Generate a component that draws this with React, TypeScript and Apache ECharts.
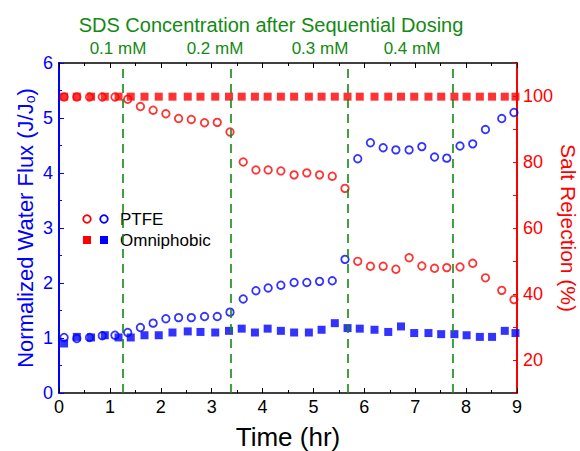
import React, { useEffect, useRef } from 'react';
import * as echarts from 'echarts';

const FONT = '"Liberation Sans", Arial, Helvetica, sans-serif';
const BLUE = '#0000ff';
const RED = '#ff0000';
const GREEN = '#138a13';

// PTFE membrane (open circles)
const timePTFE = [0.10, 0.35, 0.60, 0.85, 1.10, 1.35, 1.60, 1.85, 2.10, 2.35, 2.60, 2.86, 3.11, 3.36, 3.62, 3.87, 4.11, 4.36, 4.62, 4.87, 5.12, 5.37, 5.62, 5.87, 6.12, 6.37, 6.62, 6.88, 7.13, 7.38, 7.62, 7.88, 8.13, 8.38, 8.70, 8.94];
const fluxPTFE = [1.01, 0.99, 1.01, 1.04, 1.05, 1.10, 1.19, 1.27, 1.35, 1.37, 1.37, 1.39, 1.39, 1.47, 1.71, 1.86, 1.91, 1.96, 2.01, 2.01, 2.03, 2.04, 2.43, 4.26, 4.55, 4.46, 4.42, 4.42, 4.48, 4.29, 4.27, 4.49, 4.53, 4.79, 4.99, 5.10];
const rejPTFE = [99.7, 99.7, 99.7, 99.7, 99.7, 99.0, 96.8, 95.7, 94.6, 93.2, 92.9, 91.9, 92.0, 89.1, 80.0, 77.6, 77.6, 77.3, 76.1, 76.7, 76.1, 75.7, 72.0, 49.9, 48.4, 48.4, 47.5, 51.0, 48.5, 47.8, 48.0, 48.2, 49.3, 44.9, 41.1, 38.3];

// Omniphobic membrane (filled squares)
const timeOmni = [0.10, 0.35, 0.63, 0.90, 1.17, 1.41, 1.68, 1.96, 2.23, 2.53, 2.78, 3.07, 3.34, 3.59, 3.85, 4.10, 4.36, 4.62, 4.91, 5.16, 5.42, 5.67, 5.91, 6.20, 6.47, 6.72, 6.98, 7.26, 7.51, 7.77, 8.01, 8.27, 8.51, 8.76, 8.97];
const fluxOmni = [0.90, 1.02, 1.01, 1.05, 1.01, 1.01, 1.05, 1.05, 1.10, 1.12, 1.11, 1.10, 1.13, 1.17, 1.10, 1.17, 1.13, 1.10, 1.10, 1.15, 1.27, 1.18, 1.17, 1.15, 1.11, 1.21, 1.09, 1.09, 1.07, 1.07, 1.05, 1.02, 1.02, 1.13, 1.09];
const rejOmni = [99.8, 99.8, 99.8, 99.8, 99.8, 99.8, 99.8, 99.8, 99.8, 99.8, 99.8, 99.8, 99.8, 99.8, 99.8, 99.8, 99.8, 99.8, 99.8, 99.8, 99.8, 99.8, 99.8, 99.8, 99.8, 99.8, 99.8, 99.8, 99.8, 99.8, 99.8, 99.8, 99.8, 99.8, 99.8];

// SDS dosing events
const doseTimes = [1.25, 3.37, 5.68, 7.74];
const doseLabels = ['0.1 mM', '0.2 mM', '0.3 mM', '0.4 mM'];
const doseLabelX = [118, 215, 320, 412];

const rejLabels = [20, 40, 60, 80, 100];

const zip = (xs: number[], ys: number[]) => xs.map((x, i) => [x, ys[i]]);

export default function App() {
  const ref = useRef<HTMLDivElement>(null);
  useEffect(() => {
    const chart = echarts.init(ref.current!, null, { renderer: 'svg' });
    const commonX = {
      type: 'value', min: 0, max: 9, interval: 1,
      axisLine: { show: true, onZero: false, lineStyle: { color: '#000', width: 1.5 } },
      axisTick: { show: true, inside: true, length: 5, lineStyle: { color: '#000', width: 1 } },
      minorTick: { show: true, splitNumber: 2, length: 3, lineStyle: { color: '#000', width: 1 } },
      splitLine: { show: false },
    };
    chart.setOption({
      animation: false,
      backgroundColor: '#fff',
      grid: { left: 59, right: 63, top: 63, bottom: 58, containLabel: false, outerBoundsMode: 'none' },
      xAxis: [
        {
          ...commonX, position: 'bottom',
          axisLabel: { color: '#000', fontSize: 18, fontFamily: FONT, margin: 5 },
          name: 'Time (hr)', nameLocation: 'middle', nameGap: 31, nameMoveOverlap: false,
          nameTextStyle: { color: '#000', fontSize: 26, fontFamily: FONT, lineHeight: 26 },
        },
        { ...commonX, position: 'top', axisLabel: { show: false } },
      ],
      yAxis: [
        {
          type: 'value', position: 'left', min: 0, max: 6, interval: 1,
          axisLine: { show: true, onZero: false, lineStyle: { color: BLUE, width: 2 } },
          axisTick: { show: true, inside: true, length: 5, lineStyle: { color: BLUE, width: 1 } },
          minorTick: { show: true, splitNumber: 2, length: 3, lineStyle: { color: BLUE, width: 1 } },
          splitLine: { show: false },
          axisLabel: { color: BLUE, fontSize: 18, fontFamily: FONT, margin: 6 },
          name: 'Normalized Water Flux (J/J{sub|o})', nameLocation: 'middle', nameGap: 22, nameRotate: 90, nameMoveOverlap: false,
          nameTextStyle: {
            color: BLUE, fontSize: 22, fontFamily: FONT,
            rich: { sub: { color: BLUE, fontSize: 14, fontFamily: FONT, verticalAlign: 'bottom', lineHeight: 24 } },
          },
        },
        {
          type: 'value', position: 'right', min: 10, max: 110, interval: 10,
          axisLine: { show: true, onZero: false, lineStyle: { color: RED, width: 2 } },
          axisTick: { show: true, inside: true, length: 4, lineStyle: { color: RED, width: 1 } },
          splitLine: { show: false },
          axisLabel: { color: RED, fontSize: 18, fontFamily: FONT, margin: 6, customValues: rejLabels },
          name: 'Salt Rejection (%)', nameLocation: 'middle', nameGap: 41, nameRotate: -90, nameMoveOverlap: false,
          nameTextStyle: { color: RED, fontSize: 21, fontFamily: FONT, lineHeight: 21 },
        },
      ],
      graphic: [
        {
          type: 'text', x: 271, y: 25,
          style: { text: 'SDS Concentration after Sequential Dosing', fill: GREEN, font: `20px ${FONT}`, textAlign: 'center', textVerticalAlign: 'middle', align: 'center', verticalAlign: 'middle' },
        },
        ...doseLabels.map((t, i) => ({
          type: 'text', x: doseLabelX[i], y: 48,
          style: { text: t, fill: GREEN, font: `17px ${FONT}`, textAlign: 'center', textVerticalAlign: 'middle', align: 'center', verticalAlign: 'middle' },
        })),
        { type: 'circle', shape: { cx: 87, cy: 219, r: 3.8 }, style: { fill: 'none', stroke: RED, lineWidth: 1.8 } },
        { type: 'circle', shape: { cx: 104, cy: 219, r: 3.8 }, style: { fill: 'none', stroke: BLUE, lineWidth: 1.8 } },
        { type: 'rect', shape: { x: 83, y: 236, width: 8, height: 8 }, style: { fill: RED } },
        { type: 'rect', shape: { x: 100, y: 236, width: 8, height: 8 }, style: { fill: BLUE } },
        {
          type: 'text', x: 120, y: 219,
          style: { text: 'PTFE', fill: '#000', font: `17px ${FONT}`, textAlign: 'left', textVerticalAlign: 'middle', align: 'left', verticalAlign: 'middle' },
        },
        {
          type: 'text', x: 120, y: 240,
          style: { text: 'Omniphobic', fill: '#000', font: `17px ${FONT}`, textAlign: 'left', textVerticalAlign: 'middle', align: 'left', verticalAlign: 'middle' },
        },
      ],
      series: [
        {
          name: 'PTFE flux', type: 'scatter', xAxisIndex: 0, yAxisIndex: 0,
          data: zip(timePTFE, fluxPTFE), symbol: 'circle', symbolSize: 7.5,
          itemStyle: { color: 'rgba(255,255,255,0)', borderColor: BLUE, borderWidth: 1.8 },
          markLine: {
            silent: true, symbol: ['none', 'none'], label: { show: false },
            lineStyle: { color: GREEN, type: [9, 6], width: 1.6 },
            data: doseTimes.map((t) => ({ xAxis: t })),
          },
        },
        {
          name: 'PTFE rejection', type: 'scatter', xAxisIndex: 0, yAxisIndex: 1,
          data: zip(timePTFE, rejPTFE), symbol: 'circle', symbolSize: 7.5,
          itemStyle: { color: 'rgba(255,255,255,0)', borderColor: RED, borderWidth: 1.8 },
        },
        {
          name: 'Omniphobic flux', type: 'scatter', xAxisIndex: 0, yAxisIndex: 0,
          data: zip(timeOmni, fluxOmni), symbol: 'rect', symbolSize: 8,
          itemStyle: { color: BLUE },
        },
        {
          name: 'Omniphobic rejection', type: 'scatter', xAxisIndex: 0, yAxisIndex: 1,
          data: zip(timeOmni, rejOmni), symbol: 'rect', symbolSize: 8,
          itemStyle: { color: RED },
        },
      ],
    });
    return () => chart.dispose();
  }, []);
  return <div ref={ref} style={{ position: 'fixed', left: 0, top: 0, width: 580, height: 451, background: '#fff' }} />;
}
